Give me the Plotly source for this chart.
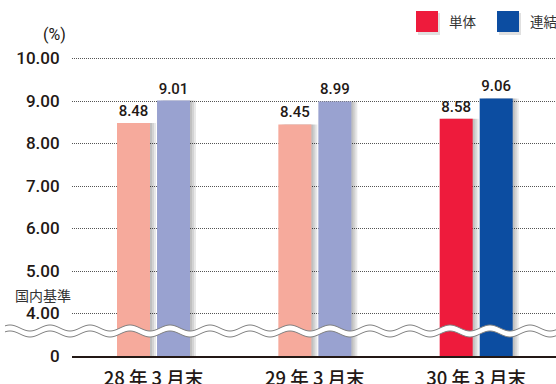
import numpy as np
import plotly.graph_objects as go

# ---------------- data ----------------
categories = ["28 年 3 月末", "29 年 3 月末", "30 年 3 月末"]
series_names = ["単体", "連結"]
single_values = [8.48, 8.45, 8.58]
consolidated_values = [9.01, 8.99, 9.06]
single_colors = ["#F6AA9C", "#F6AA9C", "#EE1B3C"]
consolidated_colors = ["#99A2D0", "#99A2D0", "#0C4DA1"]
legend_colors = ["#EE1B3C", "#0C4DA1"]
y_tick_vals = [3, 4, 5, 6, 7, 8, 9, 10]
y_tick_text = ["0", "4.00", "5.00", "6.00", "7.00", "8.00", "9.00", "10.00"]
unit_label = "(%)"
standard_label = "国内基準"

# ---------------- layout constants ----------------
W, H = 556, 384
L, R, T, B = 72, 0, 20, 28
PW, PH = W - L - R, H - T - B
X_RANGE = [-0.505, 2.495]
PX_PER_CAT = PW / (X_RANGE[1] - X_RANGE[0])
PX_PER_UNIT = 42.5
Y_RANGE = [3, 3 + PH / PX_PER_UNIT]

TEXT = "#231815"
NUM_FONT = "Roboto, Liberation Sans, Arial, sans-serif"
CJK_FONT = "Noto Sans CJK JP, sans-serif"


def xp(px):
    return (px - L) / PW


def yp(py):
    return (H - B - py) / PH


bar_w = 33 / PX_PER_CAT
offsets = [-0.226, 0.022]

fig = go.Figure()

# shadows
for vals, off in zip([single_values, consolidated_values], offsets):
    for k in (2, 4, 6):
        fig.add_trace(go.Bar(
            x=categories, y=vals, width=[bar_w] * 3,
            offset=[off + k / PX_PER_CAT] * 3,
            marker=dict(color="rgba(0,0,0,0.09)", line=dict(width=0)),
            hoverinfo="skip", showlegend=False,
        ))

for name, vals, cols, off in zip(series_names,
                                 [single_values, consolidated_values],
                                 [single_colors, consolidated_colors],
                                 offsets):
    fig.add_trace(go.Bar(
        name=name, x=categories, y=vals, width=[bar_w] * 3, offset=[off] * 3,
        marker=dict(color=cols, line=dict(width=0)),
        text=[f"{v:.2f}" for v in vals], textposition="outside",
        constraintext="none",
        textfont=dict(family=NUM_FONT, size=15, color=TEXT, weight=500),
        hoverinfo="skip", showlegend=False,
    ))

shapes = []
# wave break
xs = np.arange(5, W + 1, 1.0)
top = 328 - 3 * np.cos(2 * np.pi * (xs - 50) / 40)
bot = top + 6
fill_path = "M " + " L ".join(f"{xp(x):.5f},{yp(y):.5f}" for x, y in zip(xs, top))
fill_path += " L " + " L ".join(f"{xp(x):.5f},{yp(y):.5f}" for x, y in zip(xs[::-1], bot[::-1])) + " Z"
shapes.append(dict(type="path", xref="paper", yref="paper", path=fill_path,
                   fillcolor="white", line=dict(width=0), layer="above"))
for arr in (top, bot):
    p = "M " + " L ".join(f"{xp(x):.5f},{yp(y):.5f}" for x, y in zip(xs, arr))
    shapes.append(dict(type="path", xref="paper", yref="paper", path=p,
                       fillcolor="rgba(0,0,0,0)", line=dict(width=1, color="#808080"),
                       layer="above"))

# legend squares
annotations = []
for name, col, x0, tx in zip(series_names, legend_colors, [416, 497], [447, 528]):
    shapes.append(dict(type="rect", xref="paper", yref="paper",
                       x0=xp(x0 + 2), x1=xp(x0 + 24), y0=yp(13), y1=yp(35),
                       fillcolor="rgba(0,0,0,0.12)", line=dict(width=0)))
    shapes.append(dict(type="rect", xref="paper", yref="paper",
                       x0=xp(x0), x1=xp(x0 + 22), y0=yp(11), y1=yp(32),
                       fillcolor=col, line=dict(width=0)))
    annotations.append(dict(text=name, xref="paper", yref="paper", x=xp(tx), y=yp(21),
                            xanchor="left", yanchor="middle", showarrow=False,
                            font=dict(family=CJK_FONT, size=13.5, color="#333333")))

annotations.append(dict(text=unit_label, xref="paper", yref="paper", x=xp(68), y=yp(35),
                        xanchor="right", yanchor="middle", showarrow=False,
                        font=dict(family=NUM_FONT, size=16, color=TEXT)))
annotations.append(dict(text=standard_label, xref="paper", yref="paper", x=xp(73), y=yp(295),
                        xanchor="right", yanchor="middle", showarrow=False,
                        font=dict(family=CJK_FONT, size=14, color="#333333")))

fig.update_layout(
    width=W, height=H,
    margin=dict(l=L, r=R, t=T, b=B, pad=0, autoexpand=False),
    paper_bgcolor="white", plot_bgcolor="white",
    barmode="overlay",
    showlegend=False,
    shapes=shapes, annotations=annotations,
    xaxis=dict(type="category", range=X_RANGE, showgrid=False, zeroline=False,
               automargin=False,
               showline=True, linecolor=TEXT, linewidth=2,
               ticks="outside", ticklen=5, tickcolor="rgba(0,0,0,0)",
               tickfont=dict(family=CJK_FONT, size=18.5, color=TEXT, weight=500)),
    yaxis=dict(range=Y_RANGE, tickvals=y_tick_vals, ticktext=y_tick_text,
               automargin=False,
               showgrid=True, gridcolor="#555555", gridwidth=1, griddash="1px,1px",
               zeroline=False, showline=False,
               ticks="outside", ticklen=8, tickcolor="rgba(0,0,0,0)",
               tickfont=dict(family=NUM_FONT, size=17, color=TEXT, weight=500)),
)

fig.write_html("out.html")
